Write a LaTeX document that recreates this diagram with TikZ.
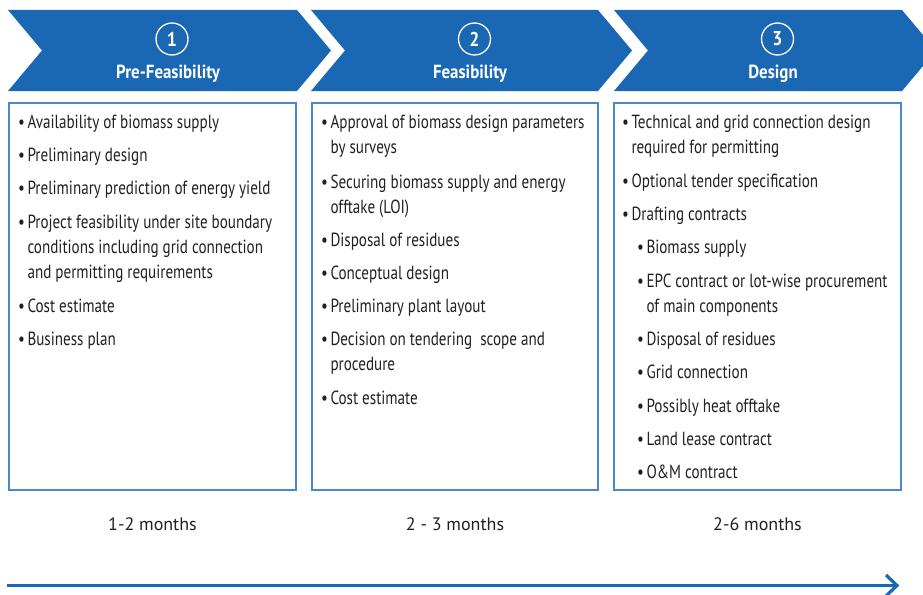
\documentclass[tikz,border=0pt]{standalone}
\usepackage{fontspec}
\setmainfont{PT Sans}
\newfontfamily\condfont{PT Sans}[FakeStretch=0.795]
\newfontfamily\titlefont{PT Sans}[FakeStretch=0.89]
\usetikzlibrary{arrows.meta}
\definecolor{hblue}{HTML}{1A68B3}
\definecolor{bline}{HTML}{4A88CA}
\definecolor{txt}{HTML}{231F20}
\begin{document}
\begin{tikzpicture}[x=1pt,y=-1pt,
  chev/.style={fill=hblue,draw=none},
  numc/.style={circle,draw=white,line width=1.3pt,minimum size=32pt,inner sep=0pt,
    text=white,font=\titlefont\fontsize{20}{20}\selectfont\bfseries},
  ttl/.style={text=white,font=\titlefont\fontsize{19}{19}\selectfont\bfseries,inner sep=0pt,anchor=base},
  panel/.style={draw=bline,line width=1.1pt,fill=none},
  item/.style={text=txt,font=\condfont\fontsize{19}{25.4}\selectfont,inner sep=0pt,anchor=base west},
  dur/.style={text=txt,font=\fontsize{18}{20}\selectfont,inner sep=0pt,anchor=base},
  timeline/.style={draw=hblue,line width=3.2pt}
]
\useasboundingbox (0,0) rectangle (923,594);
\clip (0,0) rectangle (923,594);
\newcommand{\bul}{\textbullet\hspace{2.5pt}}
\newcommand{\ind}{\hphantom{\textbullet\hspace{2.5pt}}}
\newcommand{\mlines}[1]{\begin{tabular}[t]{@{}l@{}}#1\end{tabular}}
% chevrons
\path[chev] (8,10) -- (297,10) -- (331,50.5) -- (297,91) -- (8,91) -- (42,50.5) -- cycle;
\path[chev] (311,10) -- (598,10) -- (632,50.5) -- (598,91) -- (311,91) -- (345,50.5) -- cycle;
\path[chev] (614,10) -- (902,10) -- (936,50.5) -- (902,91) -- (614,91) -- (648,50.5) -- cycle;
\node[numc] (n1) at (172,39) {1};
\node[numc] (n2) at (474.5,39) {2};
\node[numc] (n3) at (777.5,39) {3};
\node[ttl] (t1) at (168,78) {Pre-Feasibility};
\node[ttl] (t2) at (470,78) {Feasibility};
\node[ttl] (t3) at (773,78) {Design};
% panels
\draw[panel] (9,103) rectangle (296,490);
\draw[panel] (312,103) rectangle (598,490);
\draw[panel] (614,103) rectangle (901,490);
% panel 1
\node[item] (a1) at (18,128) {\bul Availability of biomass supply};
\node[item] (a2) at (18,161) {\bul Preliminary design};
\node[item] (a3) at (18,194) {\bul Preliminary prediction of energy yield};
\node[item] (a4) at (18,228) {\mlines{\bul Project feasibility under site boundary\\\ind conditions including grid connection\\\ind and permitting requirements}};
\node[item] (a5) at (18,312) {\bul Cost estimate};
\node[item] (a6) at (18,345) {\bul Business plan};
% panel 2
\node[item] (b1) at (321,128) {\mlines{\bul Approval of biomass design parameters\\\ind by surveys}};
\node[item] (b2) at (321,188) {\mlines{\bul Securing biomass supply and energy\\\ind offtake (LOI)}};
\node[item] (b3) at (321,246) {\bul Disposal of residues};
\node[item] (b4) at (321,279) {\bul Conceptual design};
\node[item] (b5) at (321,312) {\bul Preliminary plant layout};
\node[item] (b6) at (321,345) {\mlines{\bul Decision on tendering\ \ scope and\\\ind procedure}};
\node[item] (b7) at (321,404) {\bul Cost estimate};
% panel 3
\node[item] (c1) at (622,128) {\mlines{\bul Technical and grid connection design\\\ind required for permitting}};
\node[item] (c2) at (622,187) {\bul Optional tender specification};
\node[item] (c3) at (622,220) {\bul Drafting contracts};
\node[item] (c4) at (637,253) {\bul Biomass supply};
\node[item] (c5) at (637,287) {\mlines{\bul EPC contract or lot-wise procurement\\\ind of main components}};
\node[item] (c6) at (637,345) {\bul Disposal of residues};
\node[item] (c7) at (637,378) {\bul Grid connection};
\node[item] (c8) at (637,412) {\bul Possibly heat offtake};
\node[item] (c9) at (637,445) {\bul Land lease contract};
\node[item] (c10) at (637,478) {\bul O\&M contract};
% durations
\node[dur] (d1) at (152.5,530) {1-2 months};
\node[dur] (d2) at (455,530) {2 - 3 months};
\node[dur] (d3) at (757.5,530) {2-6 months};
% timeline
\coordinate (ts) at (7,585.5);
\coordinate (te) at (897,585.5);
\draw[timeline] (ts) -- (te);
\draw[timeline,line cap=butt,line join=miter] (886,575) -- (te) -- (886,596);
\end{tikzpicture}
\end{document}
